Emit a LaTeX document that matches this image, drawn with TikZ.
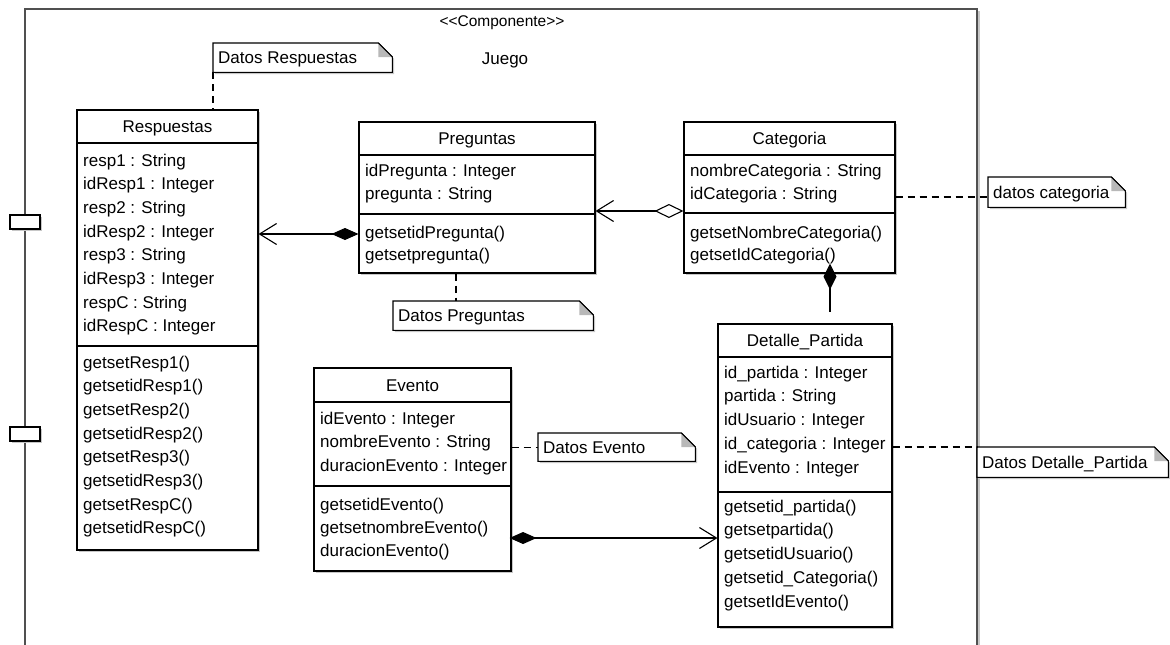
\documentclass[tikz,border=0pt]{standalone}
\usepackage{fontspec}
\setmainfont{Liberation Sans}
\usetikzlibrary{arrows.meta,shadows}

\newcommand\umlfont{\fontsize{17}{20}\selectfont}
\newcommand\stereofont{\fontsize{15.5}{18}\selectfont}
\definecolor{framegray}{RGB}{80,80,80}

\tikzset{
  boxshadow/.style={drop shadow={shadow xshift=1.8pt,shadow yshift=-1.8pt,fill=black!22,opacity=1}},
  classbox/.style={draw=black,line width=1.1pt,fill=white,rectangle,inner sep=0pt,boxshadow},
  porttab/.style={classbox,minimum width=30,minimum height=14},
  notebody/.style={rectangle,inner sep=0pt,anchor=north west},
  txt/.style={anchor=base west,inner sep=0pt,font=\umlfont},
  ttl/.style={anchor=base,inner sep=0pt,font=\umlfont},
  sepline/.style={line width=1.1pt},
  notelink/.style={line width=1.1pt,dash pattern=on 7pt off 5pt},
  compo/.style={line width=1.1pt,
    {Diamond[length=27pt,width=12pt]}-{Straight Barb[length=17pt,width=21pt]}},
  aggr/.style={line width=1.1pt,
    {Diamond[open,fill=white,length=29pt,width=14pt]}-{Straight Barb[length=17pt,width=21pt]}},
  compoend/.style={line width=1.1pt,{Diamond[length=26pt,width=13pt]}-},
}

% note outline with a folded top-right corner
\newcommand\foldnote[1]{%
  \filldraw[fill=white,line width=1.1pt,boxshadow]
    (#1.south west) -- (#1.north west) -- ([xshift=-14pt]#1.north east)
    -- ([yshift=-14pt]#1.north east) -- (#1.south east) -- cycle;
  \fill[black!28] ([xshift=-14pt]#1.north east) -- ([xshift=-14pt,yshift=-14pt]#1.north east)
    -- ([yshift=-14pt]#1.north east) -- cycle;
  \draw[line width=1.1pt] ([xshift=-14pt]#1.north east) -- ([yshift=-14pt]#1.north east);}

\begin{document}
\begin{tikzpicture}[x=1pt,y=-1pt]
\useasboundingbox (0,0) rectangle (1170,645);

% ---- component frame ----
\draw[line width=1.6pt,black!22] (979,11) -- (979,645);
\draw[line width=2pt,framegray,line join=miter] (25,645) -- (25,9) -- (977,9) -- (977,645);
\node[porttab] (port1) at (25,222) {};
\node[porttab] (port2) at (25,434) {};
\node[anchor=base,inner sep=0pt,font=\stereofont] (stereo) at (502,26) {<\kern0pt<Componente>\kern0pt>};
\node[ttl] (compname) at (505,64) {Juego};

% ---- Respuestas ----
\node[classbox,minimum width=181,minimum height=440] (resp) at (167.5,330) {};
\node[ttl] (resp-t) at (167.5,132.5) {Respuestas};
\draw[sepline] (resp.west |- 0,143) -- (resp.east |- 0,143);
\draw[sepline] (resp.west |- 0,346) -- (resp.east |- 0,346);
\foreach \lbl [count=\i from 0] in {resp1 : String,idResp1 : Integer,resp2 : String,idResp2 : Integer,resp3 : String,idResp3 : Integer,respC : String,idRespC : Integer}
  \node[txt] (resp-a\i) at (83,{166+23.7*\i}) {\lbl};
\foreach \lbl [count=\i from 0] in {getsetResp1(),getsetidResp1(),getsetResp2(),getsetidResp2(),getsetResp3(),getsetidResp3(),getsetRespC(),getsetidRespC()}
  \node[txt] (resp-m\i) at (83,{368+23.7*\i}) {\lbl};

% ---- Preguntas ----
\node[classbox,minimum width=236,minimum height=151] (preg) at (477,197.5) {};
\node[ttl] (preg-t) at (477,144.5) {Preguntas};
\draw[sepline] (preg.west |- 0,155) -- (preg.east |- 0,155);
\draw[sepline] (preg.west |- 0,214) -- (preg.east |- 0,214);
\node[txt] (preg-a0) at (365,176) {idPregunta : Integer};
\node[txt] (preg-a1) at (365,199) {pregunta : String};
\node[txt] (preg-m0) at (365,238) {getsetidPregunta()};
\node[txt] (preg-m1) at (365,260) {getsetpregunta()};

% ---- Categoria ----
\node[classbox,minimum width=211,minimum height=151] (cat) at (789.5,197.5) {};
\node[ttl] (cat-t) at (789.5,144.5) {Categoria};
\draw[sepline] (cat.west |- 0,155) -- (cat.east |- 0,155);
\draw[sepline] (cat.west |- 0,213) -- (cat.east |- 0,213);
\node[txt] (cat-a0) at (690,176) {nombreCategoria : String};
\node[txt] (cat-a1) at (690,199) {idCategoria : String};
\node[txt] (cat-m0) at (690,238) {getsetNombreCategoria()};
\node[txt] (cat-m1) at (690,260) {getsetIdCategoria()};

% ---- Evento ----
\node[classbox,minimum width=197,minimum height=203] (ev) at (412.5,469.5) {};
\node[ttl] (ev-t) at (412.5,391) {Evento};
\draw[sepline] (ev.west |- 0,402) -- (ev.east |- 0,402);
\draw[sepline] (ev.west |- 0,486) -- (ev.east |- 0,486);
\foreach \lbl [count=\i from 0] in {idEvento : Integer,nombreEvento : String,duracionEvento : Integer}
  \node[txt] (ev-a\i) at (320,{424+23.8*\i}) {\lbl};
\foreach \lbl [count=\i from 0] in {getsetidEvento(),getsetnombreEvento(),duracionEvento()}
  \node[txt] (ev-m\i) at (320,{510+23*\i}) {\lbl};

% ---- Detalle_Partida ----
\node[classbox,minimum width=174,minimum height=303] (det) at (805,475.5) {};
\node[ttl] (det-t) at (805,346.5) {Detalle\_Partida};
\draw[sepline] (det.west |- 0,357) -- (det.east |- 0,357);
\draw[sepline] (det.west |- 0,492) -- (det.east |- 0,492);
\foreach \lbl [count=\i from 0] in {id\_partida : Integer,partida : String,idUsuario : Integer,id\_categoria : Integer,idEvento : Integer}
  \node[txt] (det-a\i) at (724,{378+23.75*\i}) {\lbl};
\foreach \lbl [count=\i from 0] in {getsetid\_partida(),getsetpartida(),getsetidUsuario(),getsetid\_Categoria(),getsetIdEvento()}
  \node[txt] (det-m\i) at (724,{512+23.75*\i}) {\lbl};

% ---- notes ----
\node[notebody,minimum width=179,minimum height=29] (nresp) at (213,43) {};
\foldnote{nresp}
\node[txt] (nresp-t) at (218,63.5) {Datos Respuestas};

\node[notebody,minimum width=200,minimum height=29] (npreg) at (393,301) {};
\foldnote{npreg}
\node[txt] (npreg-t) at (398,321.5) {Datos Preguntas};

\node[notebody,minimum width=137,minimum height=30] (ncat) at (988,177) {};
\foldnote{ncat}
\node[txt] (ncat-t) at (993,198) {datos categoria};

\node[notebody,minimum width=157,minimum height=28] (nev) at (538,433) {};
\foldnote{nev}
\node[txt] (nev-t) at (543,453) {Datos Evento};

\node[notebody,minimum width=191,minimum height=30] (ndet) at (977,447) {};
\foldnote{ndet}
\node[txt] (ndet-t) at (982,468) {Datos Detalle\_Partida};

% ---- note links ----
\coordinate (pregx) at (456,0);
\coordinate (catx) at (830,0);
\draw[notelink] (nresp.south west) -- (nresp.south west |- resp.north);
\draw[notelink] (preg.south -| pregx) -- (npreg.north -| pregx);
\draw[notelink] (cat.east |- 0,197) -- (ncat.west |- 0,197);
\draw[notelink] (ev.east |- nev.west) -- (nev.west);
\draw[notelink] (det.east |- ndet.north west) -- (ndet.north west);

% ---- associations ----
\draw[compo] (preg.west |- 0,234) -- (resp.east |- 0,234);
\draw[aggr] (cat.west |- 0,211) -- (preg.east |- 0,211);
\draw[compo,shorten <=-2pt] (ev.east |- 0,538) -- (det.west |- 0,538);
\draw[compoend,shorten <=-10pt,shorten >=11pt] (cat.south -| catx) -- (det.north -| catx);
\end{tikzpicture}
\end{document}
